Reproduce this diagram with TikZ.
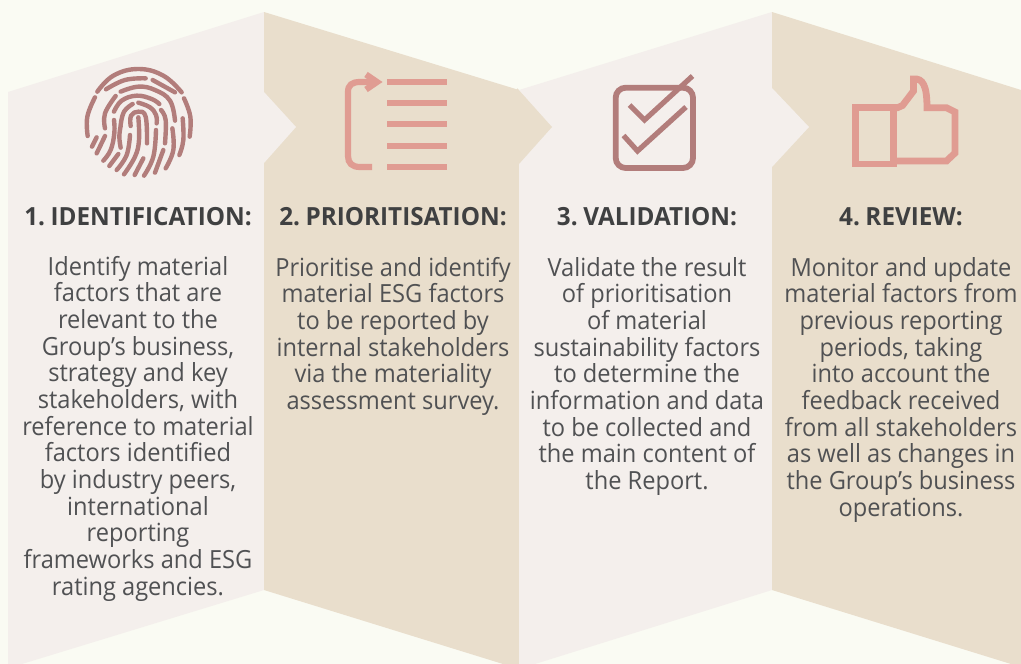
\documentclass[tikz,border=0pt]{standalone}
\usepackage{fontspec}
\setmainfont[FakeStretch=0.945,BoldFeatures={FakeStretch=0.97,WordSpace=0.55}]{Open Sans}
\definecolor{bgc}{HTML}{FAFBF3}
\definecolor{lightp}{HTML}{F4EFEC}
\definecolor{tanp}{HTML}{E9DECC}
\definecolor{bodyc}{HTML}{505153}
\definecolor{headc}{HTML}{3F4041}
\definecolor{mauve}{HTML}{B27D7B}
\definecolor{salmon}{HTML}{E09C92}
\tikzset{
  x=1pt,y=-1pt,
  bodytext/.style={anchor=north,inner sep=0pt,align=center,text=bodyc,font=\fontsize{25}{26.65}\selectfont},
  headtext/.style={anchor=base,inner sep=0pt,text=headc,font=\fontsize{25}{26}\selectfont\bfseries},
  fp/.style={mauve,line width=4.4pt,line cap=round,line join=round},
  bar/.style={salmon,line width=6.4pt},
  chk/.style={mauve,line width=5.2pt,miter limit=10},
  thumb/.style={salmon,line width=6.8pt,miter limit=10}
}
\newcommand{\fpstroke}[1]{\draw[fp] plot[smooth,tension=0.7] coordinates {#1};}
\begin{document}
\begin{tikzpicture}
\useasboundingbox (0,0) rectangle (1021,664);
\fill[bgc] (0,0) rectangle (1021,664);
% panels
\fill[lightp] (8,92) -- (264,12) -- (264,590) -- (22,664) -- (8,664) -- cycle;
\fill[tanp] (264,12) -- (519,90) -- (519,664) -- (503,664) -- (264,590) -- cycle;
\fill[lightp] (519,90) -- (772,12) -- (772,590) -- (535,664) -- (519,664) -- cycle;
\fill[tanp] (772,12) -- (1021,90) -- (1021,664) -- (1011,664) -- (772,590) -- cycle;
% fold arrows
\fill[lightp] (264,92) -- (296,127) -- (264,163) -- cycle;
\fill[tanp] (517,88) -- (552,127) -- (519,164) -- cycle;
\fill[lightp] (772,88) -- (809,127) -- (772,167) -- cycle;
% fingerprint
\begin{scope}[scale=1/3]
\fpstroke{(263,408)(262,350)(285,292)}
\fpstroke{(552,295)(571,350)(569,410)}
\fpstroke{(292,275)(340,227)(415,207)(490,227)(545,277)}
\fpstroke{(318,268)(375,240)(437,235)}
\fpstroke{(458,240)(525,277)}
\fpstroke{(362,275)(415,260)(465,270)(510,302)(525,362)}
\fpstroke{(315,385)(315,340)(347,288)}
\fpstroke{(342,335)(365,302)(410,287)(455,297)(478,312)}
\fpstroke{(362,375)(372,335)(398,312)}
\fpstroke{(415,308)(450,322)(468,345)(470,370)}
\fpstroke{(483,330)(497,360)(495,430)}
\fpstroke{(392,378)(393,347)(415,335)(437,350)(441,430)}
\fpstroke{(310,482)(332,450)(343,400)(342,360)}
\fpstroke{(415,352)(417,420)(405,470)(372,523)}
\fpstroke{(390,405)(380,465)(350,510)}
\fpstroke{(362,443)(358,410)(362,378)}
\fpstroke{(468,390)(460,470)(432,527)}
\fpstroke{(430,475)(404,525)}
\fpstroke{(517,385)(520,450)(497,505)}
\fpstroke{(490,450)(465,518)}
\fpstroke{(548,355)(550,420)(538,465)}
\fpstroke{(315,408)(290,460)}
\fpstroke{(290,412)(276,440)}
\fpstroke{(355,462)(328,498)}
\end{scope}
% list icon
\foreach \yy in {82,103,124,146,167}{\draw[bar] (387,\yy) -- (447,\yy);}
\draw[salmon,line width=6.2pt] (372,167) -- (360,167) .. controls (352,167) and (348,163) .. (348,156) -- (348,92) .. controls (348,85) and (352,82) .. (360,82) -- (376,82);
\draw[salmon,line width=6.2pt,miter limit=10] (366,74.5) -- (377,82) -- (366,89.5);
% check icon
\draw[mauve,line width=5.8pt,rounded corners=10pt] (615.7,87.7) rectangle (693,168);
\draw[chk] (629.5,105) -- (644.5,120) -- (692.5,76);
\draw[chk] (623.5,135.5) -- (637.5,151) -- (686,107);
% thumb icon
\draw[thumb] (855.5,107.7) rectangle (893.5,164);
\draw[thumb] (893.5,107.7) -- (897.5,107.7) -- (902.5,105.5) -- (913.5,91) -- (913.5,79) .. controls (923,78) and (927,86) .. (927,107.7) -- (946.5,107.7) -- (955,112) -- (955,153) -- (946.5,161) -- (893.5,161);
% headings
\node[headtext] (h1) at (138,225) {1. IDENTIFICATION:};
\node[headtext] (h2) at (393,225) {2. PRIORITISATION:};
\node[headtext] (h3) at (647,225) {3. VALIDATION:};
\node[headtext] (h4) at (901,225) {4. REVIEW:};
% body
\node[bodytext] (b1) at (138,256) {Identify material\\factors that are\\relevant to the\\Group’s business,\\strategy and key\\stakeholders, with\\reference to material\\factors identified\\by industry peers,\\international\\reporting\\frameworks and ESG\\rating agencies.};
\node[bodytext] (b2) at (393,257) {Prioritise and identify\\material ESG factors\\to be reported by\\internal stakeholders\\via the materiality\\assessment survey.};
\node[bodytext] (b3) at (647,257) {Validate the result\\of prioritisation\\of material\\sustainability factors\\to determine the\\information and data\\to be collected and\\the main content of\\the Report.};
\node[bodytext] (b4) at (901,257) {Monitor and update\\material factors from\\previous reporting\\periods, taking\\into account the\\feedback received\\from all stakeholders\\as well as changes in\\the Group’s business\\operations.};
\end{tikzpicture}
\end{document}
